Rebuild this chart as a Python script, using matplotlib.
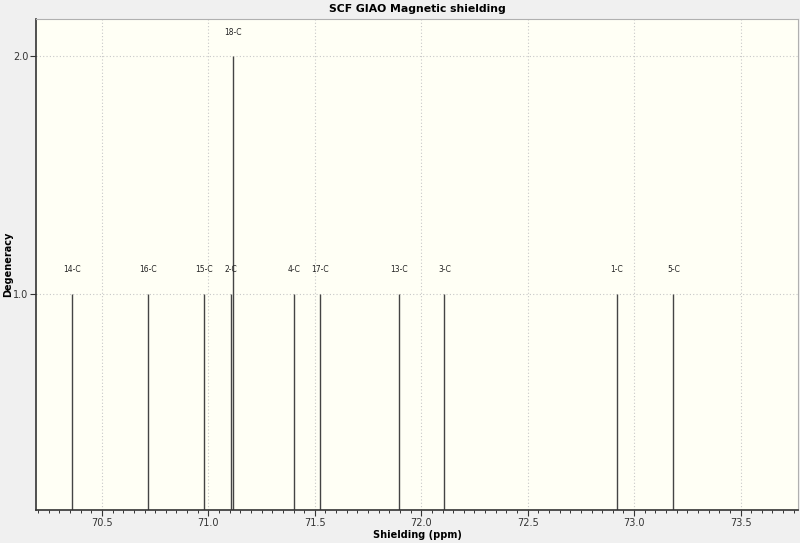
import matplotlib.pyplot as plt
from matplotlib.ticker import MultipleLocator

atoms = ['14-C', '16-C', '15-C', '2-C', '18-C', '4-C', '17-C', '13-C', '3-C', '1-C', '5-C']
shielding = [70.361, 70.718, 70.980, 71.107, 71.116, 71.404, 71.526, 71.895, 72.109, 72.919, 73.185]
degeneracy = [1, 1, 1, 1, 2, 1, 1, 1, 1, 1, 1]

fig = plt.figure(figsize=(8, 5.43), dpi=100, facecolor='#f0f0f0')
ax = fig.add_axes([0.045, 0.0608, 0.9525, 0.904])
ax.set_facecolor('#fffff5')

ax.vlines(shielding, 0, degeneracy, color='#444444', linewidth=1.0)
for x, d, name in zip(shielding, degeneracy, atoms):
    ax.annotate(name, (x, d), xytext=(0, 14), textcoords='offset points',
                ha='center', va='bottom', fontsize=5.5, color='#222222')

ax.set_xlim(70.19, 73.77)
ax.set_ylim(0.09, 2.155)
ax.xaxis.set_major_locator(MultipleLocator(0.5))
ax.xaxis.set_minor_locator(MultipleLocator(0.05))
ax.set_yticks([1.0, 2.0])
ax.xaxis.set_major_formatter(plt.FormatStrFormatter('%.1f'))
ax.yaxis.set_major_formatter(plt.FormatStrFormatter('%.1f'))
ax.grid(True, which='major', linestyle=(0, (1, 2)), color='#c8c8c8', linewidth=0.8)

ax.tick_params(axis='both', which='major', labelsize=7, labelcolor='#333333',
               length=4, width=0.8, color='#333333', direction='out', pad=1.5)
ax.tick_params(axis='x', which='minor', length=2.5, width=0.7, color='#333333')

for side in ['top', 'right']:
    ax.spines[side].set_color('#b0b0b0')
for side in ['left', 'bottom']:
    ax.spines[side].set_color('#333333')
    ax.spines[side].set_linewidth(1.2)

ax.set_title('SCF GIAO Magnetic shielding', fontsize=7.8, fontweight='bold', pad=5)
ax.set_xlabel('Shielding (ppm)', fontsize=7, fontweight='bold', va='center')
ax.set_ylabel('Degeneracy', fontsize=7, fontweight='bold', va='center')
ax.xaxis.set_label_coords(0.5, -0.051)
ax.yaxis.set_label_coords(-0.037, 0.5)

fig.savefig('out.png', dpi=100, facecolor=fig.get_facecolor())
